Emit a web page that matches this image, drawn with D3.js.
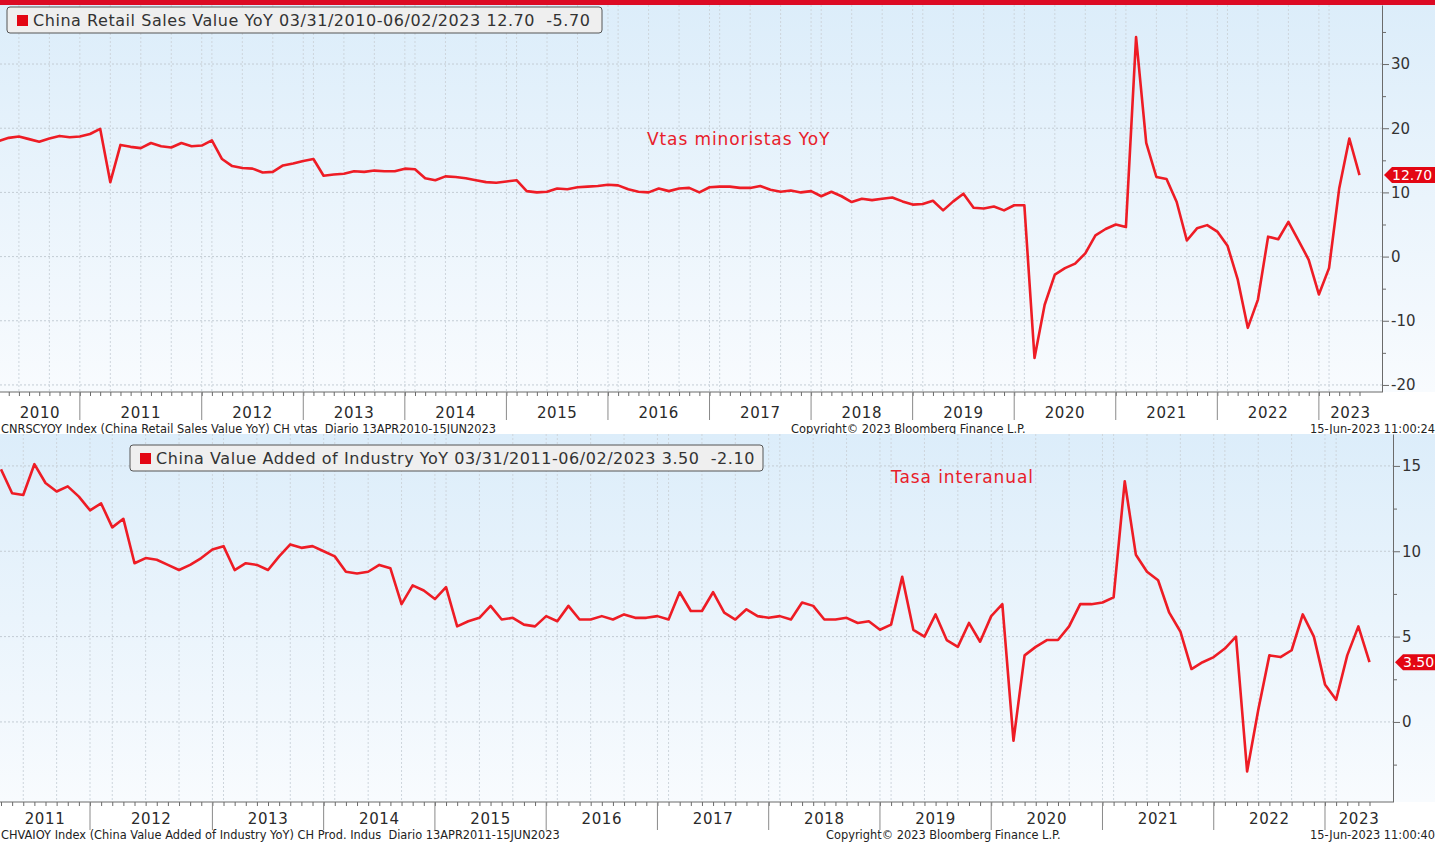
<!DOCTYPE html>
<html>
<head>
<meta charset="utf-8">
<script src="https://cdnjs.cloudflare.com/ajax/libs/d3/7.8.5/d3.min.js"></script>
<style>
  body { margin: 0; background: #fff; }
  svg { display: block; font-family: "DejaVu Sans", Verdana, sans-serif; }
</style>
</head>
<body>
<script>
var vizWidth = 1435,
    vizHeight = 842;

// month of each reading (Bloomberg keeps only the months it publishes)
var retailMonths = [
  "2010-03","2010-04","2010-05","2010-06","2010-07","2010-08","2010-09","2010-10","2010-11","2010-12",
  "2011-01","2011-02","2011-03","2011-04","2011-05","2011-06","2011-07","2011-08","2011-09","2011-10","2011-11","2011-12",
  "2012-03","2012-04","2012-05","2012-06","2012-07","2012-08","2012-09","2012-10","2012-11","2012-12",
  "2013-03","2013-04","2013-05","2013-06","2013-07","2013-08","2013-09","2013-10","2013-11","2013-12",
  "2014-03","2014-04","2014-05","2014-06","2014-07","2014-08","2014-09","2014-10","2014-11","2014-12",
  "2015-03","2015-04","2015-05","2015-06","2015-07","2015-08","2015-09","2015-10","2015-11","2015-12",
  "2016-03","2016-04","2016-05","2016-06","2016-07","2016-08","2016-09","2016-10","2016-11","2016-12",
  "2017-03","2017-04","2017-05","2017-06","2017-07","2017-08","2017-09","2017-10","2017-11","2017-12",
  "2018-03","2018-04","2018-05","2018-06","2018-07","2018-08","2018-09","2018-10","2018-11","2018-12",
  "2019-03","2019-04","2019-05","2019-06","2019-07","2019-08","2019-09","2019-10","2019-11","2019-12",
  "2020-03","2020-04","2020-05","2020-06","2020-07","2020-08","2020-09","2020-10","2020-11","2020-12",
  "2021-03","2021-04","2021-05","2021-06","2021-07","2021-08","2021-09","2021-10","2021-11","2021-12",
  "2022-03","2022-04","2022-05","2022-06","2022-07","2022-08","2022-09","2022-10","2022-11","2022-12",
  "2023-03","2023-04","2023-05"
];
var retailValues = [
  18.0, 18.5, 18.7, 18.3, 17.9, 18.4, 18.8, 18.6, 18.7, 19.1,
  19.9, 11.6, 17.4, 17.1, 16.9, 17.7, 17.2, 17.0, 17.7, 17.2, 17.3, 18.1,
  15.2, 14.1, 13.8, 13.7, 13.1, 13.2, 14.2, 14.5, 14.9, 15.2,
  12.6, 12.8, 12.9, 13.3, 13.2, 13.4, 13.3, 13.3, 13.7, 13.6,
  12.2, 11.9, 12.5, 12.4, 12.2, 11.9, 11.6, 11.5, 11.7, 11.9,
  10.2, 10.0, 10.1, 10.6, 10.5, 10.8, 10.9, 11.0, 11.2, 11.1,
  10.5, 10.1, 10.0, 10.6, 10.2, 10.6, 10.7, 10.0, 10.8, 10.9,
  10.9, 10.7, 10.7, 11.0, 10.4, 10.1, 10.3, 10.0, 10.2, 9.4,
  10.1, 9.4, 8.5, 9.0, 8.8, 9.0, 9.2, 8.6, 8.1, 8.2,
  8.7, 7.2, 8.6, 9.8, 7.6, 7.5, 7.8, 7.2, 8.0, 8.0,
  -15.8, -7.5, -2.8, -1.8, -1.1, 0.5, 3.3, 4.3, 5.0, 4.6,
  34.2, 17.7, 12.4, 12.1, 8.5, 2.5, 4.4, 4.9, 3.9, 1.7,
  -3.5, -11.1, -6.7, 3.1, 2.7, 5.4, 2.5, -0.5, -5.9, -1.8,
  10.6, 18.4, 12.7
];

var industryMonths = [
  "2011-03","2011-04","2011-05","2011-06","2011-07","2011-08","2011-09","2011-10","2011-11","2011-12",
  "2012-02","2012-03","2012-04","2012-05","2012-06","2012-07","2012-08","2012-09","2012-10","2012-11","2012-12",
  "2013-03","2013-04","2013-05","2013-06","2013-07","2013-08","2013-09","2013-10","2013-11","2013-12",
  "2014-03","2014-04","2014-05","2014-06","2014-07","2014-08","2014-09","2014-10","2014-11","2014-12",
  "2015-03","2015-04","2015-05","2015-06","2015-07","2015-08","2015-09","2015-10","2015-11","2015-12",
  "2016-03","2016-04","2016-05","2016-06","2016-07","2016-08","2016-09","2016-10","2016-11","2016-12",
  "2017-03","2017-04","2017-05","2017-06","2017-07","2017-08","2017-09","2017-10","2017-11","2017-12",
  "2018-03","2018-04","2018-05","2018-06","2018-07","2018-08","2018-09","2018-10","2018-11","2018-12",
  "2019-03","2019-04","2019-05","2019-06","2019-07","2019-08","2019-09","2019-10","2019-11","2019-12",
  "2020-03","2020-04","2020-05","2020-06","2020-07","2020-08","2020-09","2020-10","2020-11","2020-12",
  "2021-03","2021-04","2021-05","2021-06","2021-07","2021-08","2021-09","2021-10","2021-11","2021-12",
  "2022-03","2022-04","2022-05","2022-06","2022-07","2022-08","2022-09","2022-10","2022-11","2022-12",
  "2023-03","2023-04","2023-05"
];
var industryValues = [
  14.8, 13.4, 13.3, 15.1, 14.0, 13.5, 13.8, 13.2, 12.4, 12.8,
  11.4, 11.9, 9.3, 9.6, 9.5, 9.2, 8.9, 9.2, 9.6, 10.1, 10.3,
  8.9, 9.3, 9.2, 8.9, 9.7, 10.4, 10.2, 10.3, 10.0, 9.7,
  8.8, 8.7, 8.8, 9.2, 9.0, 6.9, 8.0, 7.7, 7.2, 7.9,
  5.6, 5.9, 6.1, 6.8, 6.0, 6.1, 5.7, 5.6, 6.2, 5.9,
  6.8, 6.0, 6.0, 6.2, 6.0, 6.3, 6.1, 6.1, 6.2, 6.0,
  7.6, 6.5, 6.5, 7.6, 6.4, 6.0, 6.6, 6.2, 6.1, 6.2,
  6.0, 7.0, 6.8, 6.0, 6.0, 6.1, 5.8, 5.9, 5.4, 5.7,
  8.5, 5.4, 5.0, 6.3, 4.8, 4.4, 5.8, 4.7, 6.2, 6.9,
  -1.1, 3.9, 4.4, 4.8, 4.8, 5.6, 6.9, 6.9, 7.0, 7.3,
  14.1, 9.8, 8.8, 8.3, 6.4, 5.3, 3.1, 3.5, 3.8, 4.3,
  5.0, -2.9, 0.7, 3.9, 3.8, 4.2, 6.3, 5.0, 2.2, 1.3,
  3.9, 5.6, 3.5
];

var retailTicks = [-20, -10, 0, 10, 20, 30],
    retailMinor = [-15, -5, 5, 15, 25, 35],
    industryTicks = [0, 5, 10, 15],
    industryMinor = [-2.5, 2.5, 7.5, 12.5];

var retailLegend = "China Retail Sales Value YoY 03/31/2010-06/02/2023 12.70  -5.70",
    industryLegend = "China Value Added of Industry YoY 03/31/2011-06/02/2023 3.50  -2.10";

var lineRed = "#ee1c25";

var svg = d3.select("body").append("svg")
    .attr("width", vizWidth)
    .attr("height", vizHeight);

var defs = svg.append("defs");
var grad = defs.append("linearGradient")
    .attr("id", "bg")
    .attr("x1", 0).attr("y1", 0).attr("x2", 0).attr("y2", 1);
grad.append("stop").attr("offset", "0%").attr("stop-color", "#dcedfa");
grad.append("stop").attr("offset", "100%").attr("stop-color", "#f8fbfe");

// red band at the very top
svg.append("rect")
    .attr("x", 0).attr("y", 0)
    .attr("width", vizWidth).attr("height", 5)
    .attr("fill", "#dc0a24");

// release month = reading month + 1; gridlines fall on the last point before each quarter
function releaseKey(m) {
    var y = +m.slice(0, 4), mo = +m.slice(5, 7) + 1;
    if (mo > 12) { mo = 1; y += 1; }
    return { year: y, quarter: y * 4 + Math.floor((mo - 1) / 3) };
}

function drawPanel(p) {
    var g = svg.append("g");
    var x = d3.scalePoint().domain(p.months).range(p.xRange);
    var y = d3.scaleLinear().domain(p.yDomain).range([p.bottom, p.top]);

    g.append("rect")
        .attr("x", 0).attr("y", p.top)
        .attr("width", vizWidth).attr("height", p.bottom - p.top)
        .attr("fill", "url(#bg)");

    var grid = [], seps = [];
    p.months.forEach(function (m, i) {
        if (i == p.months.length - 1) return;
        var a = releaseKey(m), b = releaseKey(p.months[i + 1]);
        if (a.quarter != b.quarter) grid.push(m);
        if (a.year != b.year) seps.push({ month: m, year: b.year });
    });

    // horizontal dotted grid
    g.selectAll(".hgrid").data(p.ticks).enter().append("line")
        .attr("x1", 0).attr("x2", p.right)
        .attr("y1", function (d) { return y(d); })
        .attr("y2", function (d) { return y(d); })
        .attr("stroke", "#c3ccd4")
        .attr("stroke-dasharray", "2,2");

    // vertical dotted grid
    g.selectAll(".vgrid").data(grid).enter().append("line")
        .attr("x1", function (d) { return x(d); })
        .attr("x2", function (d) { return x(d); })
        .attr("y1", p.top).attr("y2", p.bottom)
        .attr("stroke", "#cdd5dc")
        .attr("stroke-dasharray", "2,2");

    // series
    var line = d3.line()
        .x(function (d, i) { return x(p.months[i]); })
        .y(function (d) { return y(d); });
    g.append("path")
        .datum(p.values)
        .attr("d", line)
        .attr("fill", "none")
        .attr("stroke", lineRed)
        .attr("stroke-width", 2.6)
        .attr("stroke-linejoin", "round");

    // right axis
    var yAxis = g.append("g")
        .attr("transform", "translate(" + p.right + ",0)")
        .call(d3.axisRight(y).tickValues(p.ticks).tickSize(7).tickSizeOuter(0).tickPadding(2)
            .tickFormat(function (d) { return String(d); }));
    g.append("g")
        .attr("transform", "translate(" + p.right + ",0)")
        .call(d3.axisRight(y).tickValues(p.minor).tickSize(4).tickSizeOuter(0).tickFormat(""))
        .select(".domain").remove();
    g.selectAll(".domain, .tick line").attr("stroke", "#6b6b6b");
    yAxis.selectAll("text")
        .attr("fill", "#333")
        .style("font-size", "15px")
        .style("font-family", "DejaVu Sans, Verdana, sans-serif");

    // bottom axis: month ticks, year separators, year labels
    g.append("line")
        .attr("x1", 0).attr("x2", p.right)
        .attr("y1", p.bottom).attr("y2", p.bottom)
        .attr("stroke", "#6b6b6b");
    g.append("g")
        .attr("transform", "translate(0," + p.bottom + ")")
        .call(d3.axisBottom(x).tickValues(p.months).tickSize(4).tickSizeOuter(0).tickFormat(""))
        .call(function (a) {
            a.select(".domain").remove();
            a.selectAll("line").attr("stroke", "#6b6b6b");
        });
    g.selectAll(".sep").data(seps).enter().append("line")
        .attr("x1", function (d) { return x(d.month); })
        .attr("x2", function (d) { return x(d.month); })
        .attr("y1", p.bottom).attr("y2", p.bottom + 28)
        .attr("stroke", "#8a8a8a");

    var edges = [0].concat(seps.map(function (d) { return x(d.month); })).concat([p.right]);
    var years = [releaseKey(p.months[0]).year].concat(seps.map(function (d) { return d.year; }));
    g.selectAll(".year").data(years).enter().append("text")
        .attr("x", function (d, i) { return (edges[i] + edges[i + 1]) / 2; })
        .attr("y", p.labelY)
        .attr("text-anchor", "middle")
        .attr("fill", "#2a2a2a")
        .style("font-size", "15px")
        .style("letter-spacing", "0.6px")
        .text(function (d) { return d; });

    // last value tag
    var last = p.values[p.values.length - 1], ty = y(last);
    g.append("path")
        .attr("d", "M" + (p.right + 2) + "," + ty + "L" + (p.right + 10) + "," + (ty - 8) +
            "L" + vizWidth + "," + (ty - 8) + "L" + vizWidth + "," + (ty + 8) +
            "L" + (p.right + 10) + "," + (ty + 8) + "Z")
        .attr("fill", "#e30613");
    g.append("text")
        .attr("x", p.right + 10).attr("y", ty + 5)
        .attr("fill", "#fff")
        .style("font-size", "14px")
        .text(last.toFixed(2));

    // legend box
    var lg = g.append("g").attr("transform", "translate(" + p.legend[0] + "," + p.legend[1] + ")");
    lg.append("rect")
        .attr("width", p.legend[2]).attr("height", 26)
        .attr("rx", 3)
        .attr("fill", "#efefef")
        .attr("stroke", "#555");
    lg.append("rect")
        .attr("x", 10).attr("y", 8)
        .attr("width", 11).attr("height", 11)
        .attr("fill", "#e30613");
    lg.append("text")
        .attr("x", 26).attr("y", 19)
        .attr("fill", "#333")
        .style("font-size", "16px")
        .style("letter-spacing", "0.55px")
        .style("white-space", "pre")
        .text(p.legendText);

    // annotation
    g.append("text")
        .attr("x", p.note[0]).attr("y", p.note[1])
        .attr("fill", "#e8202a")
        .style("font-size", "17px")
        .style("letter-spacing", "0.9px")
        .text(p.noteText);

    // footer
    var fy = p.footY;
    g.append("text").attr("x", 1).attr("y", fy)
        .style("font-size", "11.4px").attr("fill", "#222")
        .style("white-space", "pre")
        .text(p.footLeft);
    g.append("text").attr("x", p.footMid).attr("y", fy)
        .style("font-size", "11.4px").attr("fill", "#222")
        .text("Copyright\u00a9 2023 Bloomberg Finance L.P.");
    g.append("text").attr("x", vizWidth).attr("y", fy)
        .attr("text-anchor", "end")
        .style("font-size", "11.4px").attr("fill", "#222")
        .text(p.footRight);
}

drawPanel({
    months: retailMonths,
    values: retailValues,
    ticks: retailTicks,
    minor: retailMinor,
    xRange: [-1.4, 1359.5],
    yDomain: [-21.1, 39.2],
    top: 5, bottom: 392, right: 1382,
    legend: [7, 7, 595],
    legendText: retailLegend,
    note: [647, 145],
    noteText: "Vtas minoristas YoY",
    labelY: 418,
    footY: 433,
    footLeft: "CNRSCYOY Index (China Retail Sales Value YoY) CH vtas  Diario 13APR2010-15JUN2023",
    footMid: 791,
    footRight: "15-Jun-2023 11:00:24"
});

drawPanel({
    months: industryMonths,
    values: industryValues,
    ticks: industryTicks,
    minor: industryMinor,
    xRange: [1.0, 1369.5],
    yDomain: [-4.69, 16.87],
    top: 434, bottom: 802, right: 1393,
    legend: [130, 445, 633],
    legendText: industryLegend,
    note: [891, 483],
    noteText: "Tasa interanual",
    labelY: 824,
    footY: 839,
    footLeft: "CHVAIOY Index (China Value Added of Industry YoY) CH Prod. Indus  Diario 13APR2011-15JUN2023",
    footMid: 826,
    footRight: "15-Jun-2023 11:00:40"
});
</script>
</body>
</html>
